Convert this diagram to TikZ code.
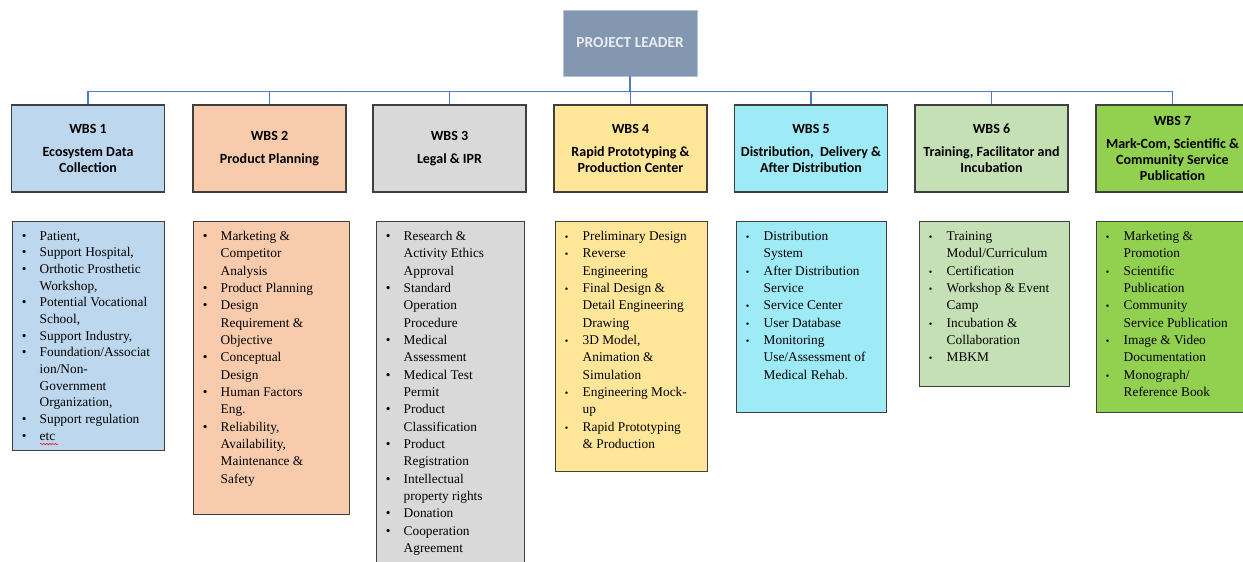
\documentclass[tikz,border=0pt]{standalone}
\usepackage{fontspec}
\setmainfont{Liberation Serif}
\newfontfamily\hdfont{Carlito}
\usepackage{tikz}
\usetikzlibrary{positioning,decorations.pathmorphing}

\definecolor{plfill}{HTML}{8497B0}
\definecolor{plline}{HTML}{B4C3D8}
\definecolor{pltext}{HTML}{E9EDF3}
\definecolor{linkblue}{HTML}{4F7ACB}
\definecolor{boxline}{HTML}{3F3F3F}
\definecolor{wbsa}{HTML}{BDD7EE}
\definecolor{wbsb}{HTML}{F8CBAD}
\definecolor{wbsc}{HTML}{D9D9D9}
\definecolor{wbsd}{HTML}{FFE699}
\definecolor{wbse}{HTML}{9EEAF6}
\definecolor{wbsf}{HTML}{C5E0B4}
\definecolor{wbsg}{HTML}{92D050}

% bullets: big (Symbol-like) and small, then continuation indent
\newcommand{\bb}{\strut\hspace*{6pt}\makebox[6pt][c]{\textbullet}\hspace*{8.6pt}}
\newcommand{\bs}{\strut\hspace*{5.5pt}\makebox[6pt][c]{\scalebox{0.75}{\textbullet}}\hspace*{9.1pt}}
\newcommand{\bc}{\strut\hspace*{20.6pt}}

\begin{document}
\begin{tikzpicture}[x=0.75pt,y=-0.75pt,
    leader/.style={draw=plline,line width=0.6pt,fill=plfill,text=pltext,
      font=\hdfont\bfseries\fontsize{11.5}{14}\selectfont,
      minimum width=100.5pt,minimum height=49.5pt},
    wbs/.style={draw=boxline,line width=1pt,minimum width=114.75pt,
      minimum height=65.25pt,align=center,inner sep=2pt,
      font=\hdfont\bfseries\fontsize{10.5}{12}\selectfont},
    lbox/.style={draw=boxline,line width=1pt,anchor=north west,inner sep=0pt},
    ltxt/.style={anchor=north west,inner sep=0pt,align=left,
      font=\fontsize{10}{13}\selectfont},
    conn/.style={draw=linkblue,line width=1pt}]
\clip (0,0) rectangle (1243,561);

% leader and work packages
\node[leader] (pl) at (630,43) {PROJECT LEADER};
\node[wbs,fill=wbsa] (w1) at (88,148.5) {WBS 1\\[5pt]Ecosystem Data\\Collection};
\node[wbs,fill=wbsb] (w2) at (269.5,148.5) {WBS 2\\[5pt]Product Planning};
\node[wbs,fill=wbsc] (w3) at (449.5,148.5) {WBS 3\\[5pt]Legal \& IPR};
\node[wbs,fill=wbsd] (w4) at (630.5,148.5) {WBS 4\\[5pt]Rapid Prototyping \&\\Production Center};
\node[wbs,fill=wbse] (w5) at (811,148.5) {WBS 5\\[5pt]Distribution,\ \ Delivery \&\\After Distribution};
\node[wbs,fill=wbsf] (w6) at (991.5,148.5) {WBS 6\\[5pt]Training, Facilitator and\\Incubation};
\node[wbs,fill=wbsg] (w7) at (1172.5,148.5) {WBS 7\\[5pt]Mark-Com, Scientific \&\\Community Service\\Publication};

\foreach \i in {1,...,7}
  \draw[conn] (pl.south) -- ++(0,15) -| (w\i.north);

% task lists
\node[lbox,fill=wbsa,minimum width=114pt,minimum height=171.75pt] (l1) at (12,221) {};
\node[lbox,fill=wbsb,minimum width=117pt,minimum height=219.75pt] (l2) at (193,221) {};
\node[lbox,fill=wbsc,minimum width=111pt,minimum height=262.5pt] (l3) at (376,221) {};
\node[lbox,fill=wbsd,minimum width=114pt,minimum height=187.5pt] (l4) at (555,221) {};
\node[lbox,fill=wbse,minimum width=112.5pt,minimum height=143.25pt] (l5) at (736,221) {};
\node[lbox,fill=wbsf,minimum width=112.5pt,minimum height=123.75pt] (l6) at (919,221) {};
\node[lbox,fill=wbsg,minimum width=112.5pt,minimum height=143.25pt] (l7) at (1096,221) {};

\node[ltxt,font=\fontsize{10}{12.5}\selectfont] (t1) at ([yshift=-5.5pt]l1.north west)
  {\bb Patient,\\ \bb Support Hospital,\\ \bb Orthotic Prosthetic\\ \bc Workshop,\\
   \bb Potential Vocational\\ \bc School,\\ \bb Support Industry,\\
   \bb Foundation/Associat\\ \bc ion/Non-\\ \bc Government\\ \bc Organization,\\
   \bb Support regulation\\ \bb etc};
\draw[red,line width=0.4pt,decorate,decoration={snake,amplitude=0.5pt,segment length=2.2pt}]
  (40,444) -- (58,444);
\node[ltxt] (t2) at ([yshift=-5.2pt]l2.north west)
  {\bb Marketing \&\\ \bc Competitor\\ \bc Analysis\\ \bb Product Planning\\
   \bb Design\\ \bc Requirement \&\\ \bc Objective\\ \bb Conceptual\\ \bc Design\\
   \bb Human Factors\\ \bc Eng.\\ \bb Reliability,\\ \bc Availability,\\
   \bc Maintenance \&\\ \bc Safety};
\node[ltxt] (t3) at ([yshift=-5.2pt]l3.north west)
  {\bb Research \&\\ \bc Activity Ethics\\ \bc Approval\\ \bb Standard\\ \bc Operation\\
   \bc Procedure\\ \bb Medical\\ \bc Assessment\\ \bb Medical Test\\ \bc Permit\\
   \bb Product\\ \bc Classification\\ \bb Product\\ \bc Registration\\
   \bb Intellectual\\ \bc property rights\\ \bb Donation\\ \bb Cooperation\\ \bc Agreement};
\node[ltxt] (t4) at ([yshift=-5.2pt]l4.north west)
  {\bs Preliminary Design\\ \bs Reverse\\ \bc Engineering\\ \bs Final Design \&\\
   \bc Detail Engineering\\ \bc Drawing\\ \bs 3D Model,\\ \bc Animation \&\\
   \bc Simulation\\ \bs Engineering Mock-\\ \bc up\\ \bs Rapid Prototyping\\
   \bc \& Production};
\node[ltxt] (t5) at ([yshift=-5.2pt]l5.north west)
  {\bs Distribution\\ \bc System\\ \bs After Distribution\\ \bc Service\\
   \bs Service Center\\ \bs User Database\\ \bs Monitoring\\ \bc Use/Assessment of\\
   \bc Medical Rehab.};
\node[ltxt] (t6) at ([yshift=-5.2pt]l6.north west)
  {\bs Training\\ \bc Modul/Curriculum\\ \bs Certification\\ \bs Workshop \& Event\\
   \bc Camp\\ \bs Incubation \&\\ \bc Collaboration\\ \bs MBKM};
\node[ltxt] (t7) at ([yshift=-5.2pt]l7.north west)
  {\bs Marketing \&\\ \bc Promotion\\ \bs Scientific\\ \bc Publication\\
   \bs Community\\ \bc Service Publication\\ \bs Image \& Video\\ \bc Documentation\\
   \bs Monograph/\\ \bc Reference Book};
\end{tikzpicture}
\end{document}
